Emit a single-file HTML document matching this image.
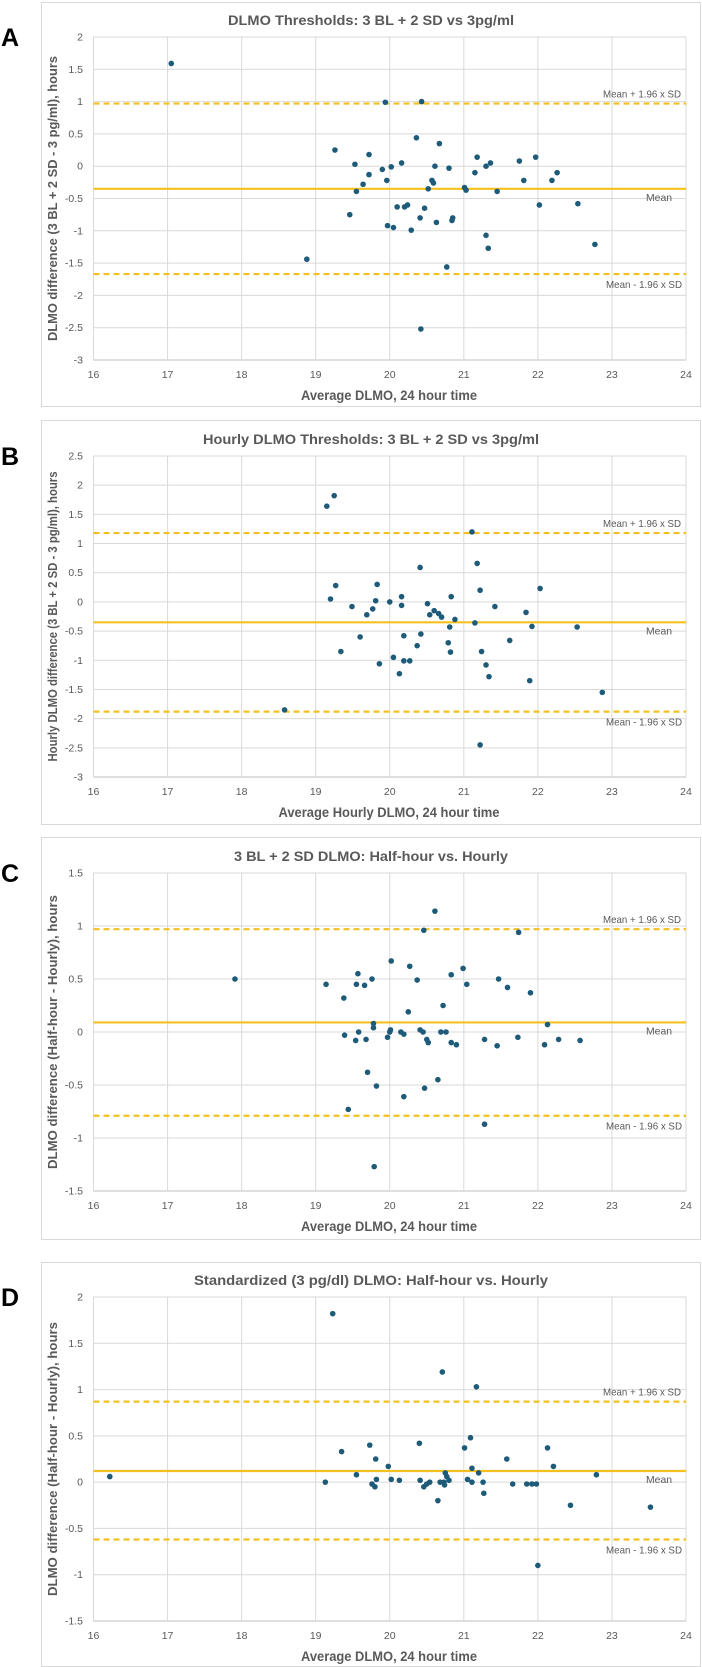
<!DOCTYPE html>
<html><head><meta charset="utf-8"><style>
html,body{margin:0;padding:0;background:#fff;}
svg{display:block;font-family:"Liberation Sans Narrow","Liberation Sans",sans-serif;}
</style></head><body>
<svg id="fig" width="702" height="1667" viewBox="0 0 702 1667"></svg>
<script>
// ---- data ----
const aX=[17.05,18.88,19.26,19.46,19.53,19.55,19.64,19.72,19.72,19.90,19.94,19.96,19.97,20.02,20.05,20.10,20.16,20.20,20.24,20.29,20.36,20.41,20.42,20.43,20.47,20.52,20.57,20.59,20.61,20.63,20.67,20.77,20.80,20.84,20.85,21.01,21.03,21.15,21.18,21.30,21.30,21.33,21.36,21.45,21.75,21.81,21.97,22.02,22.19,22.26,22.54,22.77];
const aY=[1.59,-1.44,0.25,-0.75,0.03,-0.39,-0.28,-0.13,0.18,-0.05,0.99,-0.22,-0.92,-0.01,-0.95,-0.63,0.05,-0.63,-0.60,-0.99,0.44,-0.80,-2.52,1.00,-0.65,-0.35,-0.22,-0.26,0.00,-0.87,0.35,-1.56,-0.03,-0.84,-0.80,-0.33,-0.37,-0.10,0.14,-1.07,0.00,-1.27,0.05,-0.39,0.08,-0.22,0.14,-0.60,-0.22,-0.10,-0.58,-1.21];
const bX=[18.58,19.15,19.20,19.25,19.27,19.34,19.49,19.60,19.69,19.77,19.81,19.83,19.86,20.00,20.05,20.13,20.16,20.16,20.19,20.19,20.27,20.37,20.41,20.42,20.51,20.54,20.60,20.66,20.70,20.79,20.81,20.82,20.83,20.88,21.11,21.15,21.18,21.22,21.22,21.24,21.30,21.34,21.42,21.62,21.84,21.89,21.92,22.03,22.53,22.87];
const bY=[-1.85,1.64,0.05,1.82,0.28,-0.85,-0.08,-0.60,-0.22,-0.12,0.02,0.30,-1.06,0.00,-0.95,-1.23,0.09,-0.06,-0.58,-1.01,-1.01,-0.75,0.59,-0.55,-0.03,-0.22,-0.15,-0.20,-0.26,-0.70,-0.43,-0.86,0.09,-0.30,1.20,-0.36,0.66,0.20,-2.45,-0.85,-1.08,-1.28,-0.08,-0.66,-0.18,-1.35,-0.42,0.23,-0.43,-1.55];
const cX=[17.91,19.14,19.38,19.39,19.44,19.54,19.55,19.57,19.58,19.66,19.68,19.70,19.76,19.78,19.78,19.79,19.82,19.97,20.00,20.01,20.02,20.15,20.19,20.19,20.25,20.27,20.37,20.41,20.45,20.46,20.47,20.50,20.52,20.61,20.65,20.69,20.72,20.76,20.83,20.83,20.90,20.99,21.04,21.28,21.28,21.45,21.47,21.59,21.73,21.74,21.90,22.09,22.13,22.28,22.57];
const cY=[0.50,0.45,0.32,-0.03,-0.73,-0.08,0.45,0.55,0.00,0.44,-0.07,-0.38,0.50,0.08,0.04,-1.27,-0.51,-0.05,0.00,0.02,0.67,0.00,-0.02,-0.61,0.19,0.62,0.49,0.02,0.00,0.96,-0.53,-0.07,-0.10,1.14,-0.45,0.00,0.25,0.00,0.54,-0.10,-0.12,0.60,0.45,-0.07,-0.87,-0.13,0.50,0.42,-0.05,0.94,0.37,-0.12,0.07,-0.07,-0.08];
const dX=[16.22,19.13,19.23,19.35,19.55,19.73,19.76,19.80,19.81,19.82,19.98,20.02,20.13,20.40,20.41,20.46,20.50,20.54,20.65,20.68,20.71,20.73,20.74,20.75,20.77,20.80,21.01,21.05,21.09,21.11,21.11,21.17,21.20,21.26,21.27,21.58,21.66,21.85,21.92,21.98,22.00,22.13,22.21,22.44,22.79,23.52];
const dY=[0.06,0.00,1.82,0.33,0.08,0.40,-0.02,-0.05,0.25,0.03,0.17,0.03,0.02,0.42,0.02,-0.05,-0.02,0.00,-0.20,0.00,1.19,0.00,-0.03,0.10,0.06,0.02,0.37,0.03,0.48,0.15,0.00,1.03,0.10,0.00,-0.12,0.25,-0.02,-0.02,-0.02,-0.02,-0.90,0.37,0.17,-0.25,0.08,-0.27];
const xTicks=[16,17,18,19,20,21,22,23,24];
const aYTicks=[2,1.5,1,0.5,0,-0.5,-1,-1.5,-2,-2.5,-3];
const bYTicks=[2.5,2,1.5,1,0.5,0,-0.5,-1,-1.5,-2,-2.5,-3];
const cYTicks=[1.5,1,0.5,0,-0.5,-1,-1.5];
const dYTicks=[2,1.5,1,0.5,0,-0.5,-1,-1.5];
const aLines=[-0.35,0.97,-1.67];
const bLines=[-0.35,1.18,-1.88];
const cLines=[0.09,0.97,-0.79];
const dLines=[0.12,0.87,-0.62];

const NS="http://www.w3.org/2000/svg";
const svg=document.getElementById('fig');
function mk(tag,attrs,parent,text){const e=document.createElementNS(NS,tag);for(const k in attrs)e.setAttribute(k,attrs[k]);if(text!==undefined)e.textContent=text;(parent||svg).appendChild(e);return e;}

const panels=[
 {id:'a',letter:'A',title:'DLMO Thresholds: 3 BL + 2 SD vs  3pg/ml',tW:286,ytitle:'DLMO difference (3 BL + 2 SD - 3 pg/ml), hours',yW:285,xtitle:'Average DLMO, 24 hour time',xW:176,fTop:2,fBot:406,pTop:37,pBot:360,xs:aX,ys:aY,yt:aYTicks,lines:aLines},
 {id:'b',letter:'B',title:'Hourly DLMO Thresholds: 3 BL + 2 SD vs  3pg/ml',tW:336,ytitle:'Hourly DLMO difference (3 BL + 2 SD - 3 pg/ml), hours',yW:290,xtitle:'Average Hourly DLMO, 24 hour time',xW:221,fTop:420,fBot:824,pTop:456,pBot:777,xs:bX,ys:bY,yt:bYTicks,lines:bLines},
 {id:'c',letter:'C',title:'3 BL + 2 SD DLMO: Half-hour vs. Hourly',tW:274,ytitle:'DLMO difference (Half-hour - Hourly), hours',yW:274,xtitle:'Average DLMO, 24 hour time',xW:176,fTop:837,fBot:1239,pTop:873,pBot:1191,xs:cX,ys:cY,yt:cYTicks,lines:cLines},
 {id:'d',letter:'D',title:'Standardized (3 pg/dl) DLMO: Half-hour vs. Hourly',tW:354,ytitle:'DLMO difference (Half-hour - Hourly), hours',yW:274,xtitle:'Average DLMO, 24 hour time',xW:176,fTop:1262,fBot:1666,pTop:1297,pBot:1621,xs:dX,ys:dY,yt:dYTicks,lines:dLines}
];
const L=93.5,R=686;
panels.forEach(p=>{
  const g=mk('g',{});
  
  
  const fr=mk('rect',{x:41.5,y:p.fTop+0.5,width:659,height:p.fBot-p.fTop,fill:'#fff',stroke:'#d9d9d9','stroke-width':1},g);
  
  
  const lt=mk('text',{x:1,y:p.pTop+9,'font-family':'Liberation Sans,sans-serif','font-weight':'bold','font-size':25,fill:'#000'},g,p.letter);
  
  
  const ymax=p.yt[0],ymin=p.yt[p.yt.length-1];
  const sx=v=>L+(v-16)/(24-16)*(R-L);
  const sy=v=>p.pTop+(ymax-v)/(ymax-ymin)*(p.pBot-p.pTop);
  const tt=mk('text',{x:371,y:p.pTop-12,'text-anchor':'middle','font-size':14,'font-weight':'bold',fill:'#595959',textLength:p.tW,lengthAdjust:'spacingAndGlyphs'},g,p.title);
  
  
  p.yt.forEach(v=>{
    const y=sy(v);
    const gl=mk('line',{x1:L,x2:R,y1:y,y2:y,stroke:v===ymin?'#bfbfbf':'#d9d9d9','stroke-width':1},g);
    
    
    const tl=mk('text',{x:83,y:y+3.5,'text-anchor':'end','font-size':10.5,fill:'#595959'},g,String(v));
    
    
  });
  xTicks.forEach(v=>{
    const x=sx(v);
    const gl=mk('line',{x1:x,x2:x,y1:p.pTop,y2:p.pBot,stroke:'#d9d9d9','stroke-width':1},g);
    
    
    const tl=mk('text',{x:x,y:p.pBot+18,'text-anchor':'middle','font-size':10.5,fill:'#595959'},g,String(v));
    
    
  });
  const xt=mk('text',{x:389,y:p.pBot+40,'text-anchor':'middle','font-size':14,'font-weight':'bold',fill:'#595959',textLength:p.xW,lengthAdjust:'spacingAndGlyphs'},g,p.xtitle);
  
  
  const cy=(p.pTop+p.pBot)/2;
  const yt=mk('text',{x:0,y:0,'text-anchor':'middle','font-size':13,'font-weight':'bold',fill:'#595959',textLength:p.yW,lengthAdjust:'spacingAndGlyphs',transform:`translate(57,${cy}) rotate(-90)`},g,p.ytitle);
  
  
  const names=['mean-line','upper-limit-line','lower-limit-line'];
  p.lines.forEach((v,i)=>{
    const y=sy(v);
    const ln=mk('line',{x1:L,x2:R,y1:y,y2:y,stroke:'#f4c020','stroke-width':2.2},g);
    if(i>0)ln.setAttribute('stroke-dasharray','6,4');
    
    
  });
  const m=mk('text',{x:646,y:sy(p.lines[0])+12,'font-size':10.5,fill:'#595959',textLength:26,lengthAdjust:'spacingAndGlyphs'},g,'Mean');
  
  
  const u=mk('text',{x:603,y:sy(p.lines[1])-6,'font-size':10.5,fill:'#595959',textLength:78,lengthAdjust:'spacingAndGlyphs'},g,'Mean + 1.96 x SD');
  
  
  const lo=mk('text',{x:606,y:sy(p.lines[2])+14,'font-size':10.5,fill:'#595959',textLength:76,lengthAdjust:'spacingAndGlyphs'},g,'Mean - 1.96 x SD');
  
  
  p.xs.forEach((xv,i)=>{
    const c=mk('circle',{cx:sx(xv),cy:sy(p.ys[i]),r:2.8,fill:'#1d5b79'},g);
    
    
  });
});
</script>
</body></html>
